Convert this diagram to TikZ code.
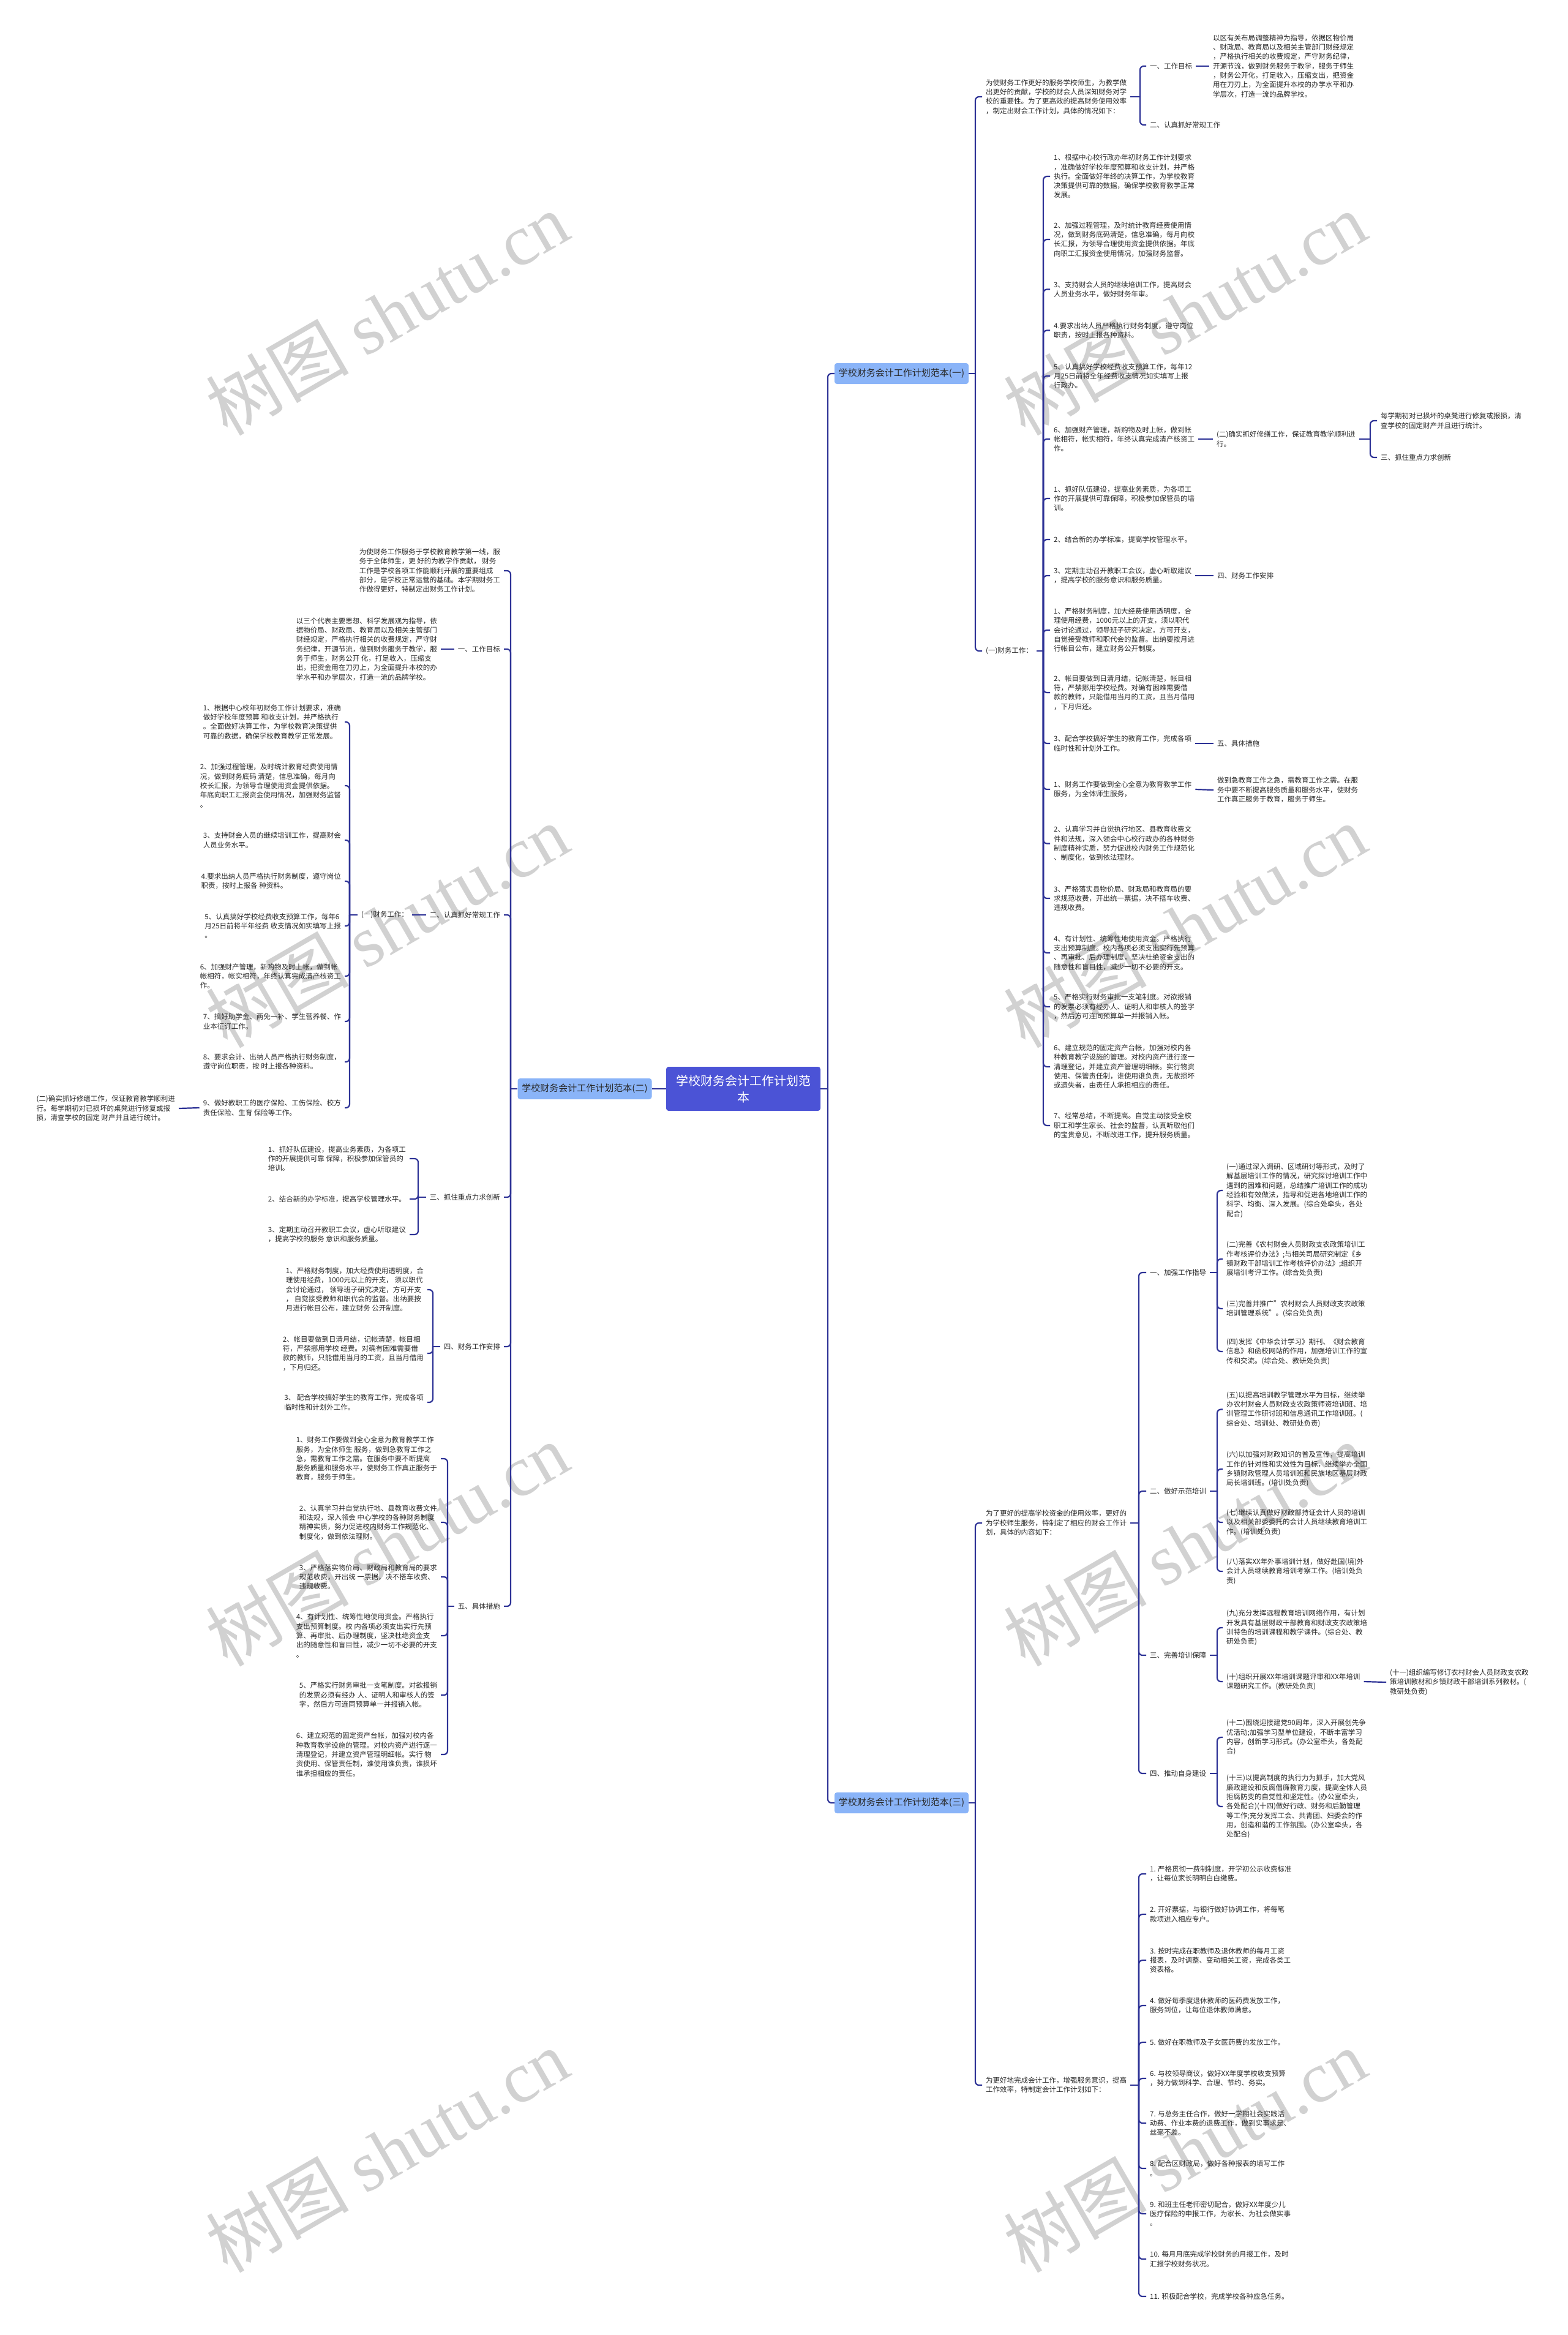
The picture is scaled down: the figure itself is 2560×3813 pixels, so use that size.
\documentclass[tikz,border=0pt]{standalone}
\usepackage{fontspec}
\setmainfont{Noto Sans CJK SC}
\newfontfamily\wmserif{Liberation Serif}
\definecolor{linec}{RGB}{45,50,150}
\definecolor{branchc}{RGB}{138,180,248}
\definecolor{rootc}{RGB}{75,83,214}
\definecolor{textc}{RGB}{40,40,40}
\newcommand\rkids[2]{\foreach \kk in {#2}{\draw[conn] (#1) |- (\kk.west);}}
\newcommand\lkids[2]{\foreach \kk in {#2}{\draw[conn] (#1) |- (\kk.east);}}
\begin{document}
\begin{tikzpicture}[x=1pt,y=-1pt,
 conn/.style={draw=linec,line width=2.2pt,rounded corners=6pt},
 txt/.style={font=\fontsize{11.5}{15.3}\selectfont,align=left,inner xsep=6pt,inner ysep=2pt,text=textc},
 rnode/.style={txt,anchor=west},
 lnode/.style={txt,anchor=east},
 brbox/.style={rounded corners=4pt,fill=branchc,font=\fontsize{15}{18}\selectfont,minimum width=219pt,minimum height=34pt,inner sep=0pt,text=textc},
 rootbox/.style={rounded corners=4pt,fill=rootc,font=\fontsize{20}{27}\selectfont,minimum width=252pt,minimum height=72pt,inner sep=0pt,text=white,align=center},
 wm/.style={text=black!18,font=\fontsize{117}{117}\selectfont,rotate=30}
]
\fill[white] (0,0) rectangle (2560,3813);
\useasboundingbox (0,0) rectangle (2560,3813);
% watermarks
\foreach \x/\y/\n in {632/512/1,1935/512/2,632/1512/3,1935/1512/4,632/2522/5,1935/2522/6,632/3512/7,1935/3512/8}
  \node[wm] (wm\n) at (\x,\y) {树图 {\wmserif shutu.cn}};

% root and branches
\node[rootbox] (root) at (1214,1778) {学校财务会计工作计划范\\本};
\node[brbox] (b1) at (1472.5,610) {学校财务会计工作计划范本(一)};
\node[brbox] (b2) at (955,1778) {学校财务会计工作计划范本(二)};
\node[brbox] (b3) at (1472.5,2944) {学校财务会计工作计划范本(三)};
\coordinate (rs) at (1352,1778);
\coordinate (ls) at (834,1778);
\draw[conn] (root.east) -- (rs);
\rkids{rs}{b1,b3}
\draw[conn] (root.west) -- (b2.east);
\draw[conn] (b2.west) -- (ls);

% ===== Branch 1 =====
\node[rnode] (b1a) at (1604,158) {为使财务工作更好的服务学校师生，为教学做\\出更好的贡献，学校的财会人员深知财务对学\\校的重要性。为了更高效的提高财务使用效率\\，制定出财会工作计划，具体的情况如下：};
\node[rnode] (b1b) at (1604,1063) {(一)财务工作：};
\coordinate (b1s) at (1593,610);
\draw[conn] (b1.east) -- (b1s);
\rkids{b1s}{b1a,b1b}
\node[rnode] (g1) at (1872,108) {一、工作目标};
\node[rnode] (g2) at (1872,204) {二、认真抓好常规工作};
\node[rnode] (g1x) at (1975,108) {以区有关布局调整精神为指导，依据区物价局\\、财政局、教育局以及相关主管部门财经规定\\，严格执行相关的收费规定，严守财务纪律，\\开源节流，做到财务服务于教学，服务于师生\\，财务公开化，打足收入，压缩支出，把资金\\用在刀刃上，为全面提升本校的办学水平和办\\学层次，打造一流的品牌学校。};
\coordinate (b1as) at (1862,158);
\draw[conn] (b1a.east) -- (b1as);
\rkids{b1as}{g1,g2}
\draw[conn] (g1.east) -- (g1x.west);

\node[rnode] (c1) at (1715,288) {1、根据中心校行政办年初财务工作计划要求\\，准确做好学校年度预算和收支计划，并严格\\执行。全面做好年终的决算工作，为学校教育\\决策提供可靠的数据，确保学校教育教学正常\\发展。};
\node[rnode] (c2) at (1715,391) {2、加强过程管理，及时统计教育经费使用情\\况，做到财务底码清楚，信息准确，每月向校\\长汇报，为领导合理使用资金提供依据。年底\\向职工汇报资金使用情况，加强财务监督。};
\node[rnode] (c3) at (1715,472.5) {3、支持财会人员的继续培训工作，提高财会\\人员业务水平，做好财务年审。};
\node[rnode] (c4) at (1715,539.5) {4.要求出纳人员严格执行财务制度，遵守岗位\\职责，按时上报各种资料。};
\node[rnode] (c5) at (1715,614) {5、认真搞好学校经费收支预算工作，每年12\\月25日前将全年经费收支情况如实填写上报\\行政办。};
\node[rnode] (c6) at (1715,717) {6、加强财产管理，新购物及时上帐，做到帐\\帐相符，帐实相符，年终认真完成清产核资工\\作。};
\node[rnode] (c7) at (1715,814) {1、抓好队伍建设，提高业务素质，为各项工\\作的开展提供可靠保障，积极参加保管员的培\\训。};
\node[rnode] (c8) at (1715,881) {2、结合新的办学标准，提高学校管理水平。};
\node[rnode] (c9) at (1715,940) {3、定期主动召开教职工会议，虚心听取建议\\，提高学校的服务意识和服务质量。};
\node[rnode] (c10) at (1715,1029) {1、严格财务制度，加大经费使用透明度，合\\理使用经费，1000元以上的开支，须以职代\\会讨论通过，领导班子研究决定，方可开支，\\自觉接受教师和职代会的监督。出纳要按月进\\行帐目公布，建立财务公开制度。};
\node[rnode] (c11) at (1715,1131) {2、帐目要做到日清月结，记帐清楚，帐目相\\符，严禁挪用学校经费。对确有困难需要借\\款的教师，只能借用当月的工资，且当月借用\\，下月归还。};
\node[rnode] (c12) at (1715,1214) {3、配合学校搞好学生的教育工作，完成各项\\临时性和计划外工作。};
\node[rnode] (c13) at (1715,1289) {1、财务工作要做到全心全意为教育教学工作\\服务，为全体师生服务，};
\node[rnode] (c14) at (1715,1377.5) {2、认真学习并自觉执行地区、县教育收费文\\件和法规，深入领会中心校行政办的各种财务\\制度精神实质，努力促进校内财务工作规范化\\、制度化，做到依法理财。};
\node[rnode] (c15) at (1715,1467) {3、严格落实县物价局、财政局和教育局的要\\求规范收费，开出统一票据，决不搭车收费、\\违规收费。};
\node[rnode] (c16) at (1715,1556) {4、有计划性、统筹性地使用资金。严格执行\\支出预算制度。校内各项必须支出实行先预算\\、再审批、后办理制度，坚决杜绝资金支出的\\随意性和盲目性，减少一切不必要的开支。};
\node[rnode] (c17) at (1715,1644) {5、严格实行财务审批一支笔制度。对欲报销\\的发票必须有经办人、证明人和审核人的签字\\，然后方可连同预算单一并报销入帐。};
\node[rnode] (c18) at (1715,1742) {6、建立规范的固定资产台帐，加强对校内各\\种教育教学设施的管理。对校内资产进行逐一\\清理登记，并建立资产管理明细帐。实行物资\\使用、保管责任制，谁使用谁负责，无故损坏\\或遗失者，由责任人承担相应的责任。};
\node[rnode] (c19) at (1715,1838) {7、经常总结，不断提高。自觉主动接受全校\\职工和学生家长、社会的监督，认真听取他们\\的宝贵意见，不断改进工作，提升服务质量。};
\coordinate (b1bs) at (1704,1063);
\draw[conn] (b1b.east) -- (b1bs);
\rkids{b1bs}{c1,c2,c3,c4,c5,c6,c7,c8,c9,c10,c11,c12,c13,c14,c15,c16,c17,c18,c19}

\node[rnode] (c6x) at (1981,717) {(二)确实抓好修缮工作，保证教育教学顺利进\\行。};
\node[rnode] (c6y) at (2249,687) {每学期初对已损坏的桌凳进行修复或报损，清\\查学校的固定财产并且进行统计。};
\node[rnode] (c6z) at (2249,747) {三、抓住重点力求创新};
\draw[conn] (c6.east) -- (c6x.west);
\coordinate (c6xs) at (2238,717);
\draw[conn] (c6x.east) -- (c6xs);
\rkids{c6xs}{c6y,c6z}
\node[rnode] (c9x) at (1982,940) {四、财务工作安排};
\node[rnode] (c12x) at (1982,1214) {五、具体措施};
\node[rnode] (c13x) at (1982,1290) {做到急教育工作之急，需教育工作之需。在服\\务中要不断提高服务质量和服务水平，使财务\\工作真正服务于教育，服务于师生。};
\draw[conn] (c9.east) -- (c9x.west);
\draw[conn] (c12.east) -- (c12x.west);
\draw[conn] (c13.east) -- (c13x.west);

% ===== Branch 3 =====
\node[rnode] (p1) at (1604,2487) {为了更好的提高学校资金的使用效率，更好的\\为学校师生服务，特制定了相应的财会工作计\\划，具体的内容如下：};
\node[rnode] (p2) at (1604,3405) {为更好地完成会计工作，增强服务意识，提高\\工作效率，特制定会计工作计划如下：};
\coordinate (b3s) at (1593,2944);
\draw[conn] (b3.east) -- (b3s);
\rkids{b3s}{p1,p2}

\node[rnode] (s1) at (1872,2078) {一、加强工作指导};
\node[rnode] (s2) at (1872,2435) {二、做好示范培训};
\node[rnode] (s3) at (1872,2703) {三、完善培训保障};
\node[rnode] (s4) at (1872,2896) {四、推动自身建设};
\coordinate (p1s) at (1860,2487);
\draw[conn] (p1.east) -- (p1s);
\rkids{p1s}{s1,s2,s3,s4}

\node[rnode] (t1) at (1997,1944) {(一)通过深入调研、区域研讨等形式，及时了\\解基层培训工作的情况，研究探讨培训工作中\\遇到的困难和问题，总结推广培训工作的成功\\经验和有效做法，指导和促进各地培训工作的\\科学、均衡、深入发展。(综合处牵头，各处\\配合)};
\node[rnode] (t2) at (1997,2056) {(二)完善《农村财会人员财政支农政策培训工\\作考核评价办法》;与相关司局研究制定《乡\\镇财政干部培训工作考核评价办法》;组织开\\展培训考评工作。(综合处负责)};
\node[rnode] (t3) at (1997,2137) {(三)完善并推广"农村财会人员财政支农政策\\培训管理系统"。(综合处负责)};
\node[rnode] (t4) at (1997,2207) {(四)发挥《中华会计学习》期刊、《财会教育\\信息》和函校网站的作用，加强培训工作的宣\\传和交流。(综合处、教研处负责)};
\coordinate (s1s) at (1988,2078);
\draw[conn] (s1.east) -- (s1s);
\rkids{s1s}{t1,t2,t3,t4}

\node[rnode] (t5) at (1997,2301.5) {(五)以提高培训教学管理水平为目标，继续举\\办农村财会人员财政支农政策师资培训班、培\\训管理工作研讨班和信息通讯工作培训班。(\\综合处、培训处、教研处负责)};
\node[rnode] (t6) at (1997,2399) {(六)以加强对财政知识的普及宣传，提高培训\\工作的针对性和实效性为目标，继续举办全国\\乡镇财政管理人员培训班和民族地区基层财政\\局长培训班。(培训处负责)};
\node[rnode] (t7) at (1997,2486) {(七)继续认真做好财政部持证会计人员的培训\\以及相关部委委托的会计人员继续教育培训工\\作。(培训处负责)};
\node[rnode] (t8) at (1997,2566) {(八)落实XX年外事培训计划，做好赴国(境)外\\会计人员继续教育培训考察工作。(培训处负\\责)};
\coordinate (s2s) at (1988,2435);
\draw[conn] (s2.east) -- (s2s);
\rkids{s2s}{t5,t6,t7,t8}

\node[rnode] (t9) at (1997,2658) {(九)充分发挥远程教育培训网络作用，有计划\\开发具有基层财政干部教育和财政支农政策培\\训特色的培训课程和教学课件。(综合处、教\\研处负责)};
\node[rnode] (t10) at (1997,2746) {(十)组织开展XX年培训课题评审和XX年培训\\课题研究工作。(教研处负责)};
\node[rnode] (t10x) at (2264,2747) {(十一)组织编写修订农村财会人员财政支农政\\策培训教材和乡镇财政干部培训系列教材。(\\教研处负责)};
\coordinate (s3s) at (1988,2703);
\draw[conn] (s3.east) -- (s3s);
\rkids{s3s}{t9,t10}
\draw[conn] (t10.east) -- (t10x.west);

\node[rnode] (t12) at (1997,2837) {(十二)围绕迎接建党90周年，深入开展创先争\\优活动;加强学习型单位建设，不断丰富学习\\内容，创新学习形式。(办公室牵头，各处配\\合)};
\node[rnode] (t13) at (1997,2950) {(十三)以提高制度的执行力为抓手，加大党风\\廉政建设和反腐倡廉教育力度，提高全体人员\\拒腐防变的自觉性和坚定性。(办公室牵头，\\各处配合)(十四)做好行政、财务和后勤管理\\等工作;充分发挥工会、共青团、妇委会的作\\用，创造和谐的工作氛围。(办公室牵头，各\\处配合)};
\coordinate (s4s) at (1988,2896);
\draw[conn] (s4.east) -- (s4s);
\rkids{s4s}{t12,t13}

\node[rnode] (u1) at (1872,3060) {1. 严格贯彻一费制制度，开学初公示收费标准\\，让每位家长明明白白缴费。};
\node[rnode] (u2) at (1872,3126) {2. 开好票据，与银行做好协调工作，将每笔\\款项进入相应专户。};
\node[rnode] (u3) at (1872,3201) {3. 按时完成在职教师及退休教师的每月工资\\报表，及时调整、变动相关工资，完成各类工\\资表格。};
\node[rnode] (u4) at (1872,3275) {4. 做好每季度退休教师的医药费发放工作，\\服务到位，让每位退休教师满意。};
\node[rnode] (u5) at (1872,3335) {5. 做好在职教师及子女医药费的发放工作。};
\node[rnode] (u6) at (1872,3394) {6. 与校领导商议，做好XX年度学校收支预算\\，努力做到科学、合理、节约、务实。};
\node[rnode] (u7) at (1872,3467) {7. 与总务主任合作，做好一学期社会实践活\\动费、作业本费的退费工作，做到实事求是、\\丝毫不差。};
\node[rnode] (u8) at (1872,3541) {8. 配合区财政局，做好各种报表的填写工作\\。};
\node[rnode] (u9) at (1872,3615) {9. 和班主任老师密切配合，做好XX年度少儿\\医疗保险的申报工作，为家长、为社会做实事\\。};
\node[rnode] (u10) at (1872,3689) {10. 每月月底完成学校财务的月报工作，及时\\汇报学校财务状况。};
\node[rnode] (u11) at (1872,3750) {11. 积极配合学校，完成学校各种应急任务。};
\coordinate (p2s) at (1860,3405);
\draw[conn] (p2.east) -- (p2s);
\rkids{p2s}{u1,u2,u3,u4,u5,u6,u7,u8,u9,u10,u11}

% ===== Branch 2 (left) =====
\node[lnode] (L1) at (823,932) {为使财务工作服务于学校教育教学第一线，服\\务于全体师生，更 好的为教学作贡献， 财务\\工作是学校各项工作能顺利开展的重要组成\\部分，是学校正常运营的基础。本学期财务工\\作做得更好，特制定出财务工作计划。};
\node[lnode] (L2) at (823,1060) {一、工作目标};
\node[lnode] (L3) at (823,1494) {二、认真抓好常规工作};
\node[lnode] (L4) at (823,1955) {三、抓住重点力求创新};
\node[lnode] (L5) at (823,2199) {四、财务工作安排};
\node[lnode] (L6) at (823,2623) {五、具体措施};
\lkids{ls}{L1,L2,L3,L4,L5,L6}

\node[lnode] (L2x) at (720,1060) {以三个代表主要思想、科学发展观为指导，依\\据物价局、财政局、教育局以及相关主管部门\\财经规定，严格执行相关的收费规定，严守财\\务纪律，开源节流，做到财务服务于教学，服\\务于师生，财务公开 化，打足收入，压缩支\\出，把资金用在刀刃上，为全面提升本校的办\\学水平和办学层次，打造一流的品牌学校。};
\draw[conn] (L2.west) -- (L2x.east);

\node[lnode] (L3x) at (673,1494) {(一)财务工作：};
\draw[conn] (L3.west) -- (L3x.east);
\node[lnode] (d1) at (563,1179) {1、根据中心校年初财务工作计划要求，准确\\做好学校年度预算 和收支计划，并严格执行\\。全面做好决算工作，为学校教育决策提供\\可靠的数据，确保学校教育教学正常发展。};
\node[lnode] (d2) at (563,1283) {2、加强过程管理，及时统计教育经费使用情\\况，做到财务底码 清楚，信息准确，每月向\\校长汇报，为领导合理使用资金提供依据。\\年底向职工汇报资金使用情况，加强财务监督\\。};
\node[lnode] (d3) at (563,1372) {3、支持财会人员的继续培训工作，提高财会\\人员业务水平。};
\node[lnode] (d4) at (563,1439) {4.要求出纳人员严格执行财务制度，遵守岗位\\职责，按时上报各 种资料。};
\node[lnode] (d5) at (563,1512) {5、认真搞好学校经费收支预算工作，每年6\\月25日前将半年经费 收支情况如实填写上报\\。};
\node[lnode] (d6) at (563,1594) {6、加强财产管理，新购物及时上帐，做到帐\\帐相符，帐实相符，年终认真完成清产核资工\\作。};
\node[lnode] (d7) at (563,1668) {7、搞好助学金、两免一补、学生营养餐、作\\业本征订工作。};
\node[lnode] (d8) at (563,1734) {8、要求会计、出纳人员严格执行财务制度，\\遵守岗位职责，按 时上报各种资料。};
\node[lnode] (d9) at (563,1809) {9、做好教职工的医疗保险、工伤保险、校方\\责任保险、生育 保险等工作。};
\coordinate (L3xs) at (571,1494);
\draw[conn] (L3x.west) -- (L3xs);
\lkids{L3xs}{d1,d2,d3,d4,d5,d6,d7,d8,d9}
\node[lnode] (d9x) at (292,1810) {(二)确实抓好修缮工作，保证教育教学顺利进\\行。每学期初对已损坏的桌凳进行修复或报\\损，清查学校的固定 财产并且进行统计。};
\draw[conn] (d9.west) -- (d9x.east);

\node[lnode] (e1) at (669,1892) {1、抓好队伍建设，提高业务素质，为各项工\\作的开展提供可靠 保障，积极参加保管员的\\培训。};
\node[lnode] (e2) at (669,1958) {2、结合新的办学标准，提高学校管理水平。};
\node[lnode] (e3) at (669,2016) {3、定期主动召开教职工会议，虚心听取建议\\，提高学校的服务 意识和服务质量。};
\coordinate (L4s) at (683,1955);
\draw[conn] (L4.west) -- (L4s);
\lkids{L4s}{e1,e2,e3}

\node[lnode] (f1) at (698,2106) {1、严格财务制度，加大经费使用透明度，合\\理使用经费，1000元以上的开支， 须以职代\\会讨论通过， 领导班子研究决定，方可开支\\， 自觉接受教师和职代会的监督。出纳要按\\月进行帐目公布，建立财务 公开制度。};
\node[lnode] (f2) at (698,2210) {2、帐目要做到日清月结，记帐清楚，帐目相\\符，严禁挪用学校 经费。对确有困难需要借\\款的教师，只能借用当月的工资，且当月借用\\，下月归还。};
\node[lnode] (f3) at (698,2290) {3、 配合学校搞好学生的教育工作，完成各项\\临时性和计划外工作。};
\coordinate (L5s) at (707,2199);
\draw[conn] (L5.west) -- (L5s);
\lkids{L5s}{f1,f2,f3}

\node[lnode] (h1) at (720,2382) {1、财务工作要做到全心全意为教育教学工作\\服务，为全体师生 服务，做到急教育工作之\\急，需教育工作之需。在服务中要不断提高\\服务质量和服务水平，使财务工作真正服务于\\教育，服务于师生。};
\node[lnode] (h2) at (720,2486) {2、认真学习并自觉执行地、县教育收费文件\\和法规，深入领会 中心学校的各种财务制度\\精神实质，努力促进校内财务工作规范化、\\制度化，做到依法理财。};
\node[lnode] (h3) at (720,2575) {3、严格落实物价局、财政局和教育局的要求\\规范收费，开出统 一票据，决不搭车收费、\\违规收费。};
\node[lnode] (h4) at (720,2671) {4、有计划性、统筹性地使用资金。严格执行\\支出预算制度。校 内各项必须支出实行先预\\算、再审批、后办理制度，坚决杜绝资金支\\出的随意性和盲目性，减少一切不必要的开支\\。};
\node[lnode] (h5) at (720,2768) {5、严格实行财务审批一支笔制度。对欲报销\\的发票必须有经办 人、证明人和审核人的签\\字，然后方可连同预算单一并报销入帐。};
\node[lnode] (h6) at (720,2865) {6、建立规范的固定资产台帐，加强对校内各\\种教育教学设施的管理。对校内资产进行逐一\\清理登记，并建立资产管理明细帐。实行 物\\资使用、保管责任制，谁使用谁负责，谁损坏\\谁承担相应的责任。};
\coordinate (L6s) at (731,2623);
\draw[conn] (L6.west) -- (L6s);
\lkids{L6s}{h1,h2,h3,h4,h5,h6}
\end{tikzpicture}
\end{document}
